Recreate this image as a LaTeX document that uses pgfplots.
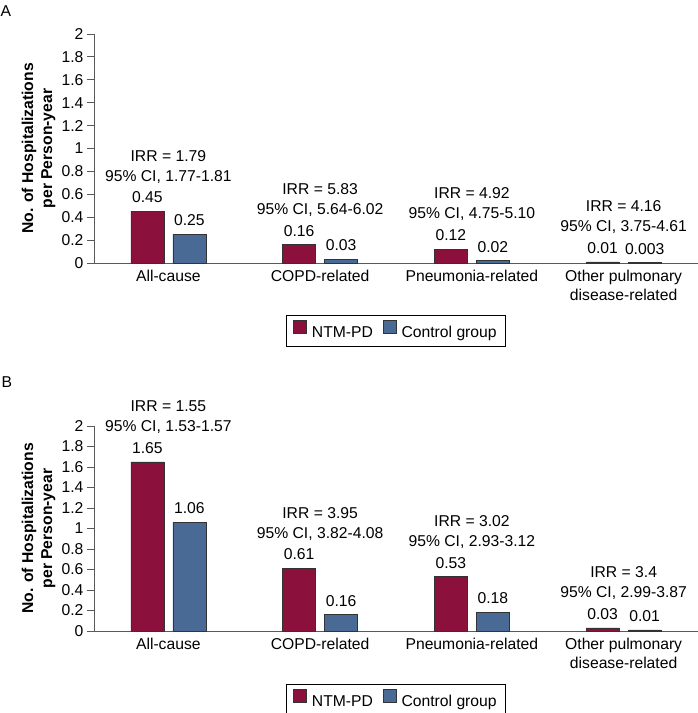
\documentclass[border=0pt]{standalone}
\usepackage{pgfplots}
\pgfplotsset{compat=1.18}
\usepackage{fontspec}
\setmainfont{Liberation Sans}
\definecolor{ntm}{RGB}{140,16,60}
\definecolor{ctl}{RGB}{74,106,150}
\newcommand{\fs}{\fontsize{15.7}{19}\selectfont}
\tikzset{irr/.style={font=\fs, anchor=base, inner sep=0pt}}

\pgfplotsset{
  panel/.style={
    scale only axis,
    clip=false,
    width=604pt,
    xmin=-0.49, xmax=3.49,
    ymin=0, ymax=2,
    axis lines*=left,
    axis line style={black!65, line width=0.9pt},
    ytick={0,0.2,...,2.01},
    yticklabel style={font=\fs, /pgf/number format/assume math mode=true},
    tick style={black!65, line width=0.9pt},
    tick align=outside,
    major tick length=7pt,
    xtick={0,1,2,3},
    xticklabels={All-cause, COPD-related, Pneumonia-related, {Other pulmonary\\disease-related}},
    xticklabel style={font=\fs, align=center, anchor=north, inner sep=0pt},
    x tick style={draw=none},
    ylabel={No. of Hospitalizations\\per Person-year},
    every axis y label/.style={at={(axis description cs:0,0.5)}, xshift=-55.5pt, rotate=90, anchor=center, font=\fs\bfseries, align=center},
    ybar=9pt,
    bar width=33pt,
    legend columns=2,
    legend cell align=left,
    legend style={font=\fs, draw=black, line width=0.8pt, anchor=north,
      inner xsep=7pt, inner ysep=5pt,
      /tikz/every odd column/.append style={column sep=3pt},
      /tikz/every even column/.append style={column sep=8pt}},
    legend image code/.code={\draw[#1, line width=0.6pt] (4pt,-1pt) rectangle (17pt,12pt);},
    nodes near coords={\pgfplotspointmeta},
    point meta=explicit symbolic,
    every node near coord/.append style={font=\fs, anchor=base, inner sep=0pt, yshift=8.6pt},
  },
}

\begin{document}
\begin{tikzpicture}[x=1pt,y=1pt]
\node[anchor=base west, inner sep=0pt, font=\fs] at (0.5,696) {A};
\node[anchor=base west, inner sep=0pt, font=\fs] at (1.5,325.3) {B};

% Panel A
\begin{axis}[panel, at={(94pt,450pt)}, anchor=south west, height=229pt,
  legend style={at={(axis description cs:0.5,-0.2271)}}]
\addplot[fill=ntm, draw=black!80, line width=0.6pt] coordinates {(0,0.45) [0.45] (1,0.16) [0.16] (2,0.12) [0.12] (3,0.01) [0.01]};
\addplot[fill=ctl, draw=black!80, line width=0.6pt] coordinates {(0,0.25) [0.25] (1,0.03) [0.03] (2,0.02) [0.02] (3,0.003) [0.003]};
\legend{NTM-PD, Control group}
\node[irr, yshift=50.4pt] at (axis cs:0,0.45) {IRR = 1.79};
\node[irr, yshift=30.4pt] at (axis cs:0,0.45) {95\% CI, 1.77-1.81};
\node[irr, yshift=50.4pt] at (axis cs:1,0.16) {IRR = 5.83};
\node[irr, yshift=30.4pt] at (axis cs:1,0.16) {95\% CI, 5.64-6.02};
\node[irr, yshift=50.4pt] at (axis cs:2,0.12) {IRR = 4.92};
\node[irr, yshift=30.4pt] at (axis cs:2,0.12) {95\% CI, 4.75-5.10};
\node[irr, yshift=50.4pt] at (axis cs:3,0.01) {IRR = 4.16};
\node[irr, yshift=30.4pt] at (axis cs:3,0.01) {95\% CI, 3.75-4.61};
\end{axis}

% Panel B
\begin{axis}[panel, at={(94pt,82pt)}, anchor=south west, height=205pt,
  legend style={at={(axis description cs:0.5,-0.2585)}}]
\addplot[fill=ntm, draw=black!80, line width=0.6pt] coordinates {(0,1.65) [1.65] (1,0.61) [0.61] (2,0.53) [0.53] (3,0.03) [0.03]};
\addplot[fill=ctl, draw=black!80, line width=0.6pt] coordinates {(0,1.06) [1.06] (1,0.16) [0.16] (2,0.18) [0.18] (3,0.01) [0.01]};
\legend{NTM-PD, Control group}
\node[irr, yshift=50.4pt] at (axis cs:0,1.65) {IRR = 1.55};
\node[irr, yshift=30.4pt] at (axis cs:0,1.65) {95\% CI, 1.53-1.57};
\node[irr, yshift=50.4pt] at (axis cs:1,0.61) {IRR = 3.95};
\node[irr, yshift=30.4pt] at (axis cs:1,0.61) {95\% CI, 3.82-4.08};
\node[irr, yshift=50.4pt] at (axis cs:2,0.53) {IRR = 3.02};
\node[irr, yshift=30.4pt] at (axis cs:2,0.53) {95\% CI, 2.93-3.12};
\node[irr, yshift=50.4pt] at (axis cs:3,0.03) {IRR = 3.4};
\node[irr, yshift=30.4pt] at (axis cs:3,0.03) {95\% CI, 2.99-3.87};
\end{axis}
\pgfresetboundingbox
\path[use as bounding box] (0pt,0pt) rectangle (698pt,713pt);
\end{tikzpicture}
\end{document}
